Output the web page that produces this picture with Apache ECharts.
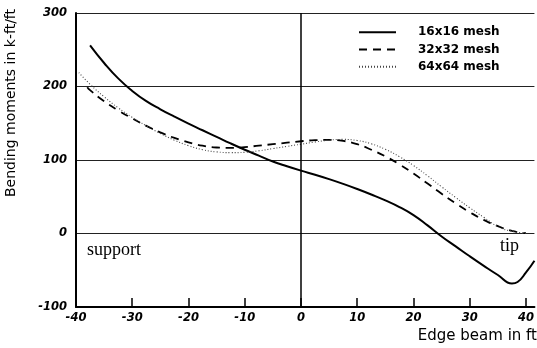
<!DOCTYPE html>
<html>
<head>
<meta charset="utf-8">
<script src="https://cdn.jsdelivr.net/npm/echarts@6/dist/echarts.min.js"></script>
<style>html,body{margin:0;padding:0;background:#fff}#c{width:537px;height:348px}</style>
</head>
<body>
<div id="c"></div>
<script>
// x positions (ft) and bending moments (k-ft/ft)
var x16 = [-37.5,-35,-32.5,-30,-27.5,-25,-22.5,-20,-17.5,-15,-12.5,-10,-7.5,-5,-2.5,0,2.5,5,7.5,10,12.5,15,17.5,20,22.5,25,27.5,30,32.5,35,37.5,38.5,40,41.5];
var y16 = [256,232,211,194,180,169,159,149.5,140.5,131.5,122.5,114,106,98,91.5,85.5,80,74,67.5,60.5,53,45,36,25,11,-4,-17.5,-31,-44,-56.5,-68,-66,-53,-37];
var x32 = [-38,-37.5,-35,-32.5,-30,-27.5,-25,-22.5,-20,-17.5,-15,-12.5,-10,-7.5,-5,-2.5,0,2.5,5,7.5,10,12.5,15,17.5,20,22.5,25,27.5,30,32.5,35,37.5,40];
var y32 = [199,195,180,167.5,156.5,146.5,137.5,130,124,119.5,117,116.5,117.5,119.5,121.5,123.5,125.5,127,127.5,126,121.5,114,105,94,81.5,68,54,41,29,18.5,10,3.5,0.5];
var x64 = [-39.5,-37.5,-35,-32.5,-30,-27.5,-25,-22.5,-20,-17.5,-15,-12.5,-10,-7.5,-5,-2.5,0,2.5,5,7.5,10,12.5,15,17.5,20,22.5,25,27.5,30,32.5,35,37.5,40];
var y64 = [219,203,186,171,158,146.5,136,127,119.5,114,111,110,110.5,112.5,115.5,118.5,121.5,124.5,127,128,126.5,122,114.5,104.5,92.5,78.5,63.5,49,35,22,9.5,3,0.5];
var xTicks = [-40,-30,-20,-10,0,10,20,30,40];
var seriesNames = ['16x16 mesh','32x32 mesh','64x64 mesh'];

function pairs(xs, ys){ return xs.map(function(v,i){ return [v, ys[i]]; }); }

var tickFont = {fontFamily:'DejaVu Sans', fontWeight:'bold', fontStyle:'italic', fontSize:11.5, color:'#000'};

var chart = echarts.init(document.getElementById('c'), null, {renderer:'canvas'});
chart.setOption({
  animation: false,
  backgroundColor: '#fff',
  grid: {left: 76, right: 0.5, top: 13, bottom: 41, containLabel: false},
  xAxis: {
    type: 'value', min: -40, max: 41.5, interval: 10,
    axisLine: {onZero: false, lineStyle: {color: '#000', width: 2}},
    axisTick: {inside: true, length: 9, customValues: xTicks, lineStyle: {color: '#000', width: 1.5}},
    axisLabel: Object.assign({margin: 5, customValues: xTicks}, tickFont),
    splitLine: {show: false}
  },
  yAxis: {
    type: 'value', min: -100, max: 300, interval: 100,
    axisLine: {show: true, onZero: false, lineStyle: {color: '#000', width: 2}},
    axisTick: {show: false},
    axisLabel: Object.assign({margin: 9}, tickFont),
    splitLine: {show: true, lineStyle: {color: '#222', width: 1}}
  },
  legend: {
    orient: 'vertical', left: 353, top: 20.3,
    itemWidth: 37, itemHeight: 14, itemGap: 3.2,
    data: seriesNames,
    itemStyle: {opacity: 0, borderWidth: 0},
    textStyle: {fontFamily: 'DejaVu Sans', fontWeight: 'bold', fontSize: 12, color: '#000', lineHeight: 14, padding: [0,0,0,17]}
  },
  graphic: [
    {type: 'text', left: 87, top: 241, style: {text: 'support', font: '18px "Liberation Serif"', fill: '#000'}},
    {type: 'text', left: 500, top: 237, style: {text: 'tip', font: '18px "Liberation Serif"', fill: '#000'}},
    {type: 'text', right: 0, top: 329, style: {text: 'Edge beam in ft', font: '15px "DejaVu Sans"', fill: '#000'}},
    {type: 'text', x: 11, y: 103, rotation: Math.PI/2,
     style: {text: 'Bending moments in k-ft/ft', font: '14px "DejaVu Sans"', fill: '#000', align: 'center', verticalAlign: 'middle'}}
  ],
  series: [
    {name: seriesNames[0], type: 'line', data: pairs(x16, y16), symbol: 'none', smooth: 0.5,
     lineStyle: {color: '#000', width: 2, type: 'solid'}, itemStyle: {color: '#000'},
     markLine: {silent: true, symbol: ['none','none'], label: {show: false},
       lineStyle: {color: '#000', width: 1.5, type: 'solid'}, data: [{xAxis: 0}]}},
    {name: seriesNames[1], type: 'line', data: pairs(x32, y32), symbol: 'none', smooth: 0.5,
     lineStyle: {color: '#000', width: 1.8, type: [8,6]}, itemStyle: {color: '#000'}},
    {name: seriesNames[2], type: 'line', data: pairs(x64, y64), symbol: 'none', smooth: 0.5,
     lineStyle: {color: '#444', width: 1.1, type: [1,2]}, itemStyle: {color: '#444'}}
  ]
});
</script>
</body>
</html>
